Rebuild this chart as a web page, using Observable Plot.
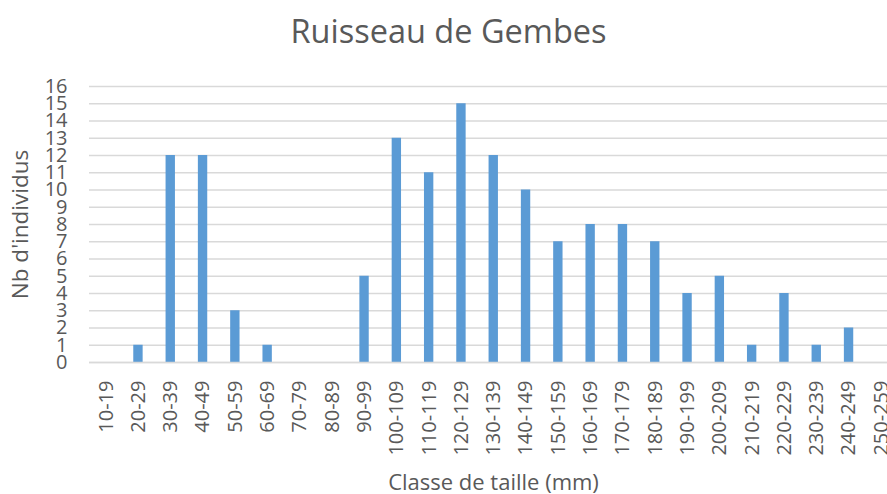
<!DOCTYPE html>
<html><head><meta charset="utf-8">
<script src="https://cdn.jsdelivr.net/npm/d3@7"></script>
<script src="https://cdn.jsdelivr.net/npm/@observablehq/plot@0.6"></script>
<style>
html,body{margin:0;padding:0;background:#fff;overflow:hidden;}
</style></head><body>
<div id="chart"></div>
<script>
const classes = ["10-19","20-29","30-39","40-49","50-59","60-69","70-79","80-89","90-99","100-109","110-119","120-129","130-139","140-149","150-159","160-169","170-179","180-189","190-199","200-209","210-219","220-229","230-239","240-249","250-259"];
const counts = [0,1,12,12,3,1,0,0,5,13,11,15,12,10,7,8,8,7,4,5,1,4,1,2,0];
const yTicks = d3.range(0, 17);
const title = "Ruisseau de Gembes";
const xLabel = "Classe de taille (mm)";
const yLabel = "Nb d'individus";

const data = classes.map((c, i) => ({classe: c, n: counts[i]}));
const font = "'Open Sans', sans-serif";
const grey = "#595959";

const plot = Plot.plot({
  width: 887,
  height: 494,
  marginLeft: 89,
  marginRight: 0,
  marginTop: 86,
  marginBottom: 132,
  style: {fontFamily: font, color: grey, overflow: "visible"},
  x: {domain: classes, range: [89.5, 897], paddingInner: 0.71, paddingOuter: 0.355, round: false},
  y: {domain: [0, 16]},
  marks: [
    Plot.gridY(yTicks, {stroke: "#D9D9D9", strokeOpacity: 1, strokeWidth: 1.5}),
    Plot.barY(data, {x: "classe", y: "n", fill: "#5B9BD5"}),
    Plot.ruleY([0], {stroke: "#D9D9D9", strokeWidth: 1.5}),
    Plot.axisY(yTicks, {tickSize: 0, tickPadding: 22, fontSize: 20, label: null, fill: grey}),
    Plot.axisX({tickSize: 0, tickPadding: 18, tickRotate: -90, fontSize: 20, label: null, fill: grey}),
    Plot.text([title], {frameAnchor: "top", lineAnchor: "bottom", text: d => d, dy: -44, dx: -40, fontSize: 32.5, fill: grey}),
    Plot.text([xLabel], {frameAnchor: "bottom", lineAnchor: "bottom", text: d => d, dy: 127, dx: 5, fontSize: 22, fill: grey}),
    Plot.text([yLabel], {frameAnchor: "left", lineAnchor: "bottom", textAnchor: "middle", text: d => d, dx: -62, rotate: -90, fontSize: 22.5, fill: grey})
  ]
});
document.getElementById("chart").appendChild(plot);
</script>
</body></html>
